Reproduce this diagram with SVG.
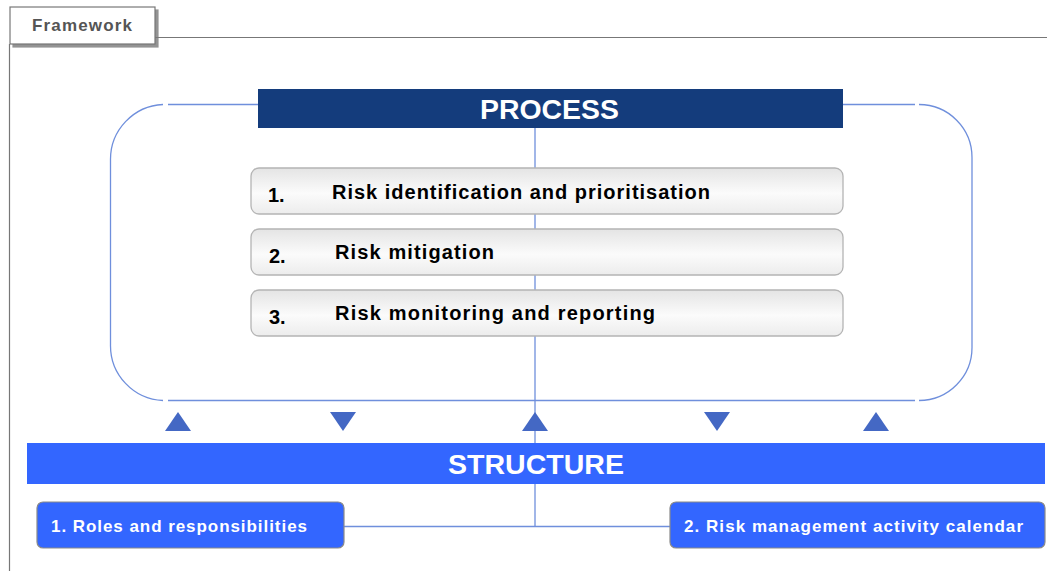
<svg xmlns="http://www.w3.org/2000/svg" width="1047" height="571" viewBox="0 0 1047 571">
<defs>
<linearGradient id="grey" x1="0" y1="0" x2="0" y2="1">
<stop offset="0" stop-color="#e4e4e4"/>
<stop offset="0.55" stop-color="#fbfbfb"/>
<stop offset="1" stop-color="#ececec"/>
</linearGradient>
<filter id="sh" x="-10%" y="-10%" width="130%" height="140%">
<feDropShadow dx="3" dy="3" stdDeviation="0.5" flood-color="#777" flood-opacity="0.8"/>
</filter>
</defs>
<style>
.ln{stroke:#6f8fdc;stroke-width:1.3;fill:none}
.fr{stroke:#777;stroke-width:1.2;fill:none}
.pbox{fill:url(#grey);stroke:#b4b4b4;stroke-width:1.3}
.ptxt{font-family:"Liberation Sans",Arial,sans-serif;font-weight:bold;font-size:20px;fill:#000}
.sbox{fill:#3366ff;stroke:#8a8a8a;stroke-width:1.2}
.stxt{font-family:"Liberation Sans",Arial,sans-serif;font-weight:bold;font-size:17px;fill:#fff}
.hdr{font-family:"Liberation Sans",Arial,sans-serif;font-weight:bold;font-size:27px;fill:#fff;text-anchor:middle}
.tri{fill:#4468c4}
</style>
<rect width="1047" height="571" fill="#fff"/>
<g id="frame">
<line class="fr" x1="9.5" y1="44" x2="9.5" y2="571"/>
<line class="fr" x1="155" y1="37.5" x2="1047" y2="37.5"/>
<rect x="10" y="7" width="145" height="37" fill="#fff" stroke="#777" stroke-width="1.2" filter="url(#sh)"/>
<text x="32" y="31" font-family="Liberation Sans,Arial,sans-serif" font-weight="bold" font-size="17" fill="#555" textLength="100" lengthAdjust="spacing">Framework</text>
</g>
<g id="connectors">
<path class="ln" d="M163,104.5 A55,55 0 0 0 110.5,160 V345 A55,55 0 0 0 163,400.5"/>
<line class="ln" x1="168" y1="104.5" x2="258" y2="104.5"/>
<line class="ln" x1="843" y1="104.5" x2="915" y2="104.5"/>
<path class="ln" d="M919,104.5 A53,53 0 0 1 972,158 V347 A53,53 0 0 1 919,400.5"/>
<line class="ln" x1="168" y1="400.5" x2="915" y2="400.5"/>
<line class="ln" x1="535" y1="128" x2="535" y2="526"/>
<line class="ln" x1="344" y1="526.5" x2="670" y2="526.5"/>
<polygon class="tri" points="165,431 178,412 191,431"/>
<polygon class="tri" points="330,412 356,412 343,431"/>
<polygon class="tri" points="522,431 535,412 548,431"/>
<polygon class="tri" points="704,412 730,412 717,431"/>
<polygon class="tri" points="863,431 876,412 889,431"/>
</g>
<g id="process">
<rect x="258" y="89" width="585" height="39" fill="#143c7c"/>
<text class="hdr" x="549.5" y="119" textLength="139" lengthAdjust="spacingAndGlyphs">PROCESS</text>
</g>
<g id="step1">
<rect class="pbox" x="251" y="168" width="592" height="46" rx="8"/>
<text class="ptxt" x="268" y="202">1.</text>
<text class="ptxt" x="332" y="199" textLength="378" lengthAdjust="spacing">Risk identification and prioritisation</text>
</g>
<g id="step2">
<rect class="pbox" x="251" y="229" width="592" height="46" rx="8"/>
<text class="ptxt" x="269" y="263">2.</text>
<text class="ptxt" x="335" y="259" textLength="159" lengthAdjust="spacing">Risk mitigation</text>
</g>
<g id="step3">
<rect class="pbox" x="251" y="290" width="592" height="46" rx="8"/>
<text class="ptxt" x="269" y="324">3.</text>
<text class="ptxt" x="335" y="320" textLength="320" lengthAdjust="spacing">Risk monitoring and reporting</text>
</g>
<g id="structure">
<rect x="27" y="443" width="1018" height="41" fill="#3366ff"/>
<text class="hdr" x="536" y="474" textLength="176" lengthAdjust="spacingAndGlyphs">STRUCTURE</text>
</g>
<g id="roles">
<rect class="sbox" x="37" y="502" width="307" height="46" rx="6"/>
<text class="stxt" x="51" y="532" textLength="256" lengthAdjust="spacing">1. Roles and responsibilities</text>
</g>
<g id="calendar">
<rect class="sbox" x="670" y="502" width="375" height="46" rx="6"/>
<text class="stxt" x="684" y="532" textLength="339" lengthAdjust="spacing">2. Risk management activity calendar</text>
</g>
</svg>
